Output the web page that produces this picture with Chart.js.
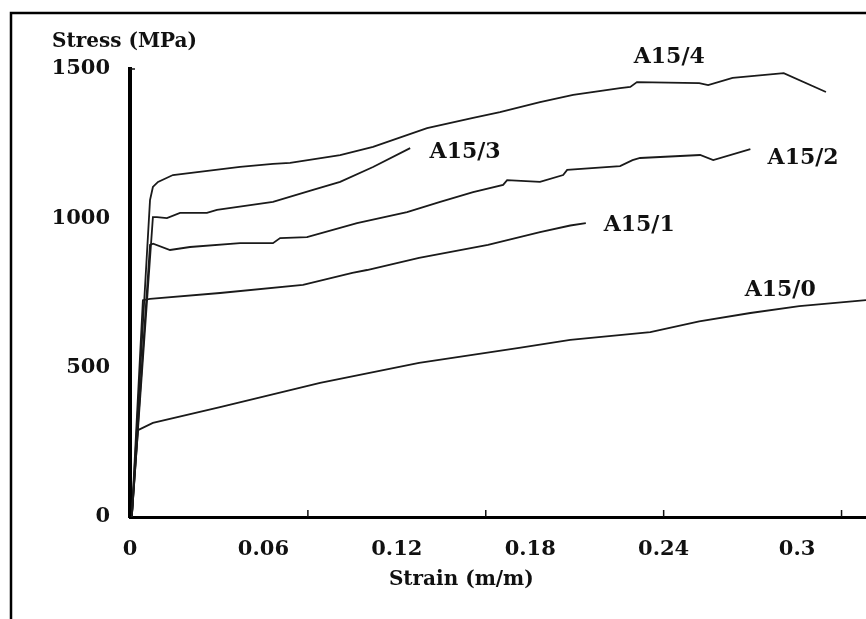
<!DOCTYPE html>
<html>
<head>
<meta charset="utf-8">
<title>Stress-strain curves A15</title>
<script src="https://cdn.jsdelivr.net/npm/chart.js@4.4.1/dist/chart.umd.min.js"></script>
<style>
  html, body { margin: 0; padding: 0; background: #fff; }
  #wrap { width: 866px; height: 619px; position: relative; }
</style>
</head>
<body>
<div id="wrap"><canvas id="chart-stress"></canvas></div>
<script>
// Strain (m/m) / stress (MPa)
const strainA0 = [0.0008, 0.0036, 0.0103, 0.0405, 0.0855, 0.130, 0.175, 0.198, 0.234, 0.256, 0.279, 0.301, 0.331];
const stressA0 = [0, 291, 315, 368, 449, 516, 566, 593, 619, 655, 683, 706, 726];

const strainA1 = [0.0008, 0.0058, 0.009, 0.0405, 0.0778, 0.100, 0.1066, 0.130, 0.161, 0.1844, 0.198, 0.205];
const stressA1 = [0, 726, 730, 750, 777, 817, 827, 868, 911, 954, 976, 984];

const strainA2 = [0.0008, 0.009, 0.0104, 0.018, 0.027, 0.0495, 0.0643, 0.0675, 0.0796, 0.1021, 0.1246, 0.1395, 0.1543, 0.1678, 0.1696, 0.1844, 0.1948, 0.1966, 0.2204, 0.226, 0.2294, 0.2564, 0.2623, 0.279];
const stressA2 = [0, 911, 915, 894, 904, 917, 917, 934, 937, 984, 1021, 1055, 1088, 1112, 1128, 1122, 1145, 1162, 1175, 1195, 1202, 1212, 1195, 1232];

const strainA3 = [0.0008, 0.0103, 0.0121, 0.0166, 0.0225, 0.0346, 0.0391, 0.0643, 0.0823, 0.0945, 0.1093, 0.126];
const stressA3 = [0, 1004, 1004, 1001, 1018, 1018, 1028, 1055, 1095, 1122, 1172, 1235];

const strainA4 = [0.0008, 0.009, 0.0103, 0.0126, 0.0193, 0.0495, 0.0643, 0.072, 0.0945, 0.1093, 0.1336, 0.1543, 0.1664, 0.1844, 0.1993, 0.2204, 0.225, 0.228, 0.256, 0.260, 0.271, 0.294, 0.313];
const stressA4 = [0, 1061, 1105, 1122, 1145, 1172, 1182, 1186, 1212, 1239, 1302, 1336, 1356, 1389, 1413, 1436, 1440, 1456, 1453, 1446, 1470, 1486, 1423];

const seriesNames = ['A15/0', 'A15/1', 'A15/2', 'A15/3', 'A15/4'];
// where each curve name sits (strain, stress)
const nameStrain = [0.2924, 0.229, 0.3027, 0.1507, 0.2425];
const nameStress = [760, 978, 1202, 1222, 1540];

const yTicks = [0, 500, 1000, 1500];
const xMarks = [0.08, 0.16, 0.24, 0.32];   // small inner tick marks on the strain axis

const FONT = '"DejaVu Serif", "Liberation Serif", serif';
const INK = '#111';

function toPoints(xs, ys) {
    return xs.map((x, i) => ({ x: x, y: ys[i] }));
}

const curves = [
    toPoints(strainA0, stressA0),
    toPoints(strainA1, stressA1),
    toPoints(strainA2, stressA2),
    toPoints(strainA3, stressA3),
    toPoints(strainA4, stressA4)
];

// frame, axis titles, inner marks and curve names
const decorations = {
    id: 'decorations',
    beforeDraw(chart) {
        const ctx = chart.ctx;
        ctx.save();
        ctx.fillStyle = '#fff';
        ctx.fillRect(0, 0, chart.width, chart.height);
        ctx.strokeStyle = '#000';
        ctx.lineWidth = 2.5;
        ctx.beginPath();
        ctx.moveTo(11, chart.height);
        ctx.lineTo(11, 13);
        ctx.lineTo(chart.width, 13);
        ctx.stroke();
        ctx.restore();
    },
    afterDraw(chart) {
        const ctx = chart.ctx;
        const { x, y } = chart.scales;
        const area = chart.chartArea;
        ctx.save();
        ctx.fillStyle = INK;
        ctx.strokeStyle = INK;

        // inner tick marks
        ctx.lineWidth = 1.5;
        xMarks.forEach(m => {
            const px = x.getPixelForValue(m);
            ctx.beginPath();
            ctx.moveTo(px, area.bottom);
            ctx.lineTo(px, area.bottom - 7);
            ctx.stroke();
        });
        ctx.beginPath();
        ctx.moveTo(area.left, y.getPixelForValue(1500));
        ctx.lineTo(area.left + 5, y.getPixelForValue(1500));
        ctx.stroke();

        // titles
        ctx.font = 'bold 20px ' + FONT;
        ctx.textBaseline = 'middle';
        ctx.textAlign = 'left';
        ctx.fillText('Stress (MPa)', 52, 42);
        ctx.textAlign = 'center';
        ctx.fillText('Strain (m/m)', x.getPixelForValue(0.149), 580);

        // curve names
        ctx.font = 'bold 22px ' + FONT;
        seriesNames.forEach((name, i) => {
            ctx.fillText(name, x.getPixelForValue(nameStrain[i]), y.getPixelForValue(nameStress[i]));
        });
        ctx.restore();
    }
};

new Chart(document.getElementById('chart-stress'), {
    type: 'line',
    data: {
        datasets: curves.map((pts, i) => ({
            label: seriesNames[i],
            data: pts,
            borderColor: '#1a1a1a',
            borderWidth: 1.8,
            pointRadius: 0,
            tension: 0,
            fill: false
        }))
    },
    options: {
        responsive: true,
        maintainAspectRatio: false,
        animation: false,
        layout: { padding: { top: 69, right: 0, left: 0, bottom: 0 } },
        plugins: {
            legend: { display: false },
            tooltip: { enabled: false }
        },
        scales: {
            x: {
                type: 'linear',
                min: 0,
                max: 0.331,
                grid: { display: false },
                border: { display: true, color: '#000', width: 3 },
                ticks: {
                    stepSize: 0.06,
                    includeBounds: false,
                    color: INK,
                    padding: 12,
                    font: { family: FONT, size: 21, weight: 'bold' },
                    callback: v => String(+v.toFixed(2))
                },
                afterFit: s => { s.height = 102; }
            },
            y: {
                type: 'linear',
                min: 0,
                max: 1500,
                grid: { display: false },
                border: { display: true, color: '#000', width: 4 },
                afterBuildTicks: s => { s.ticks = yTicks.map(v => ({ value: v })); },
                ticks: {
                    color: INK,
                    padding: 12,
                    font: { family: FONT, size: 21, weight: 'bold' },
                    callback: v => String(v)
                },
                afterFit: s => { s.width = 130; }
            }
        }
    },
    plugins: [decorations]
});
</script>
</body>
</html>
